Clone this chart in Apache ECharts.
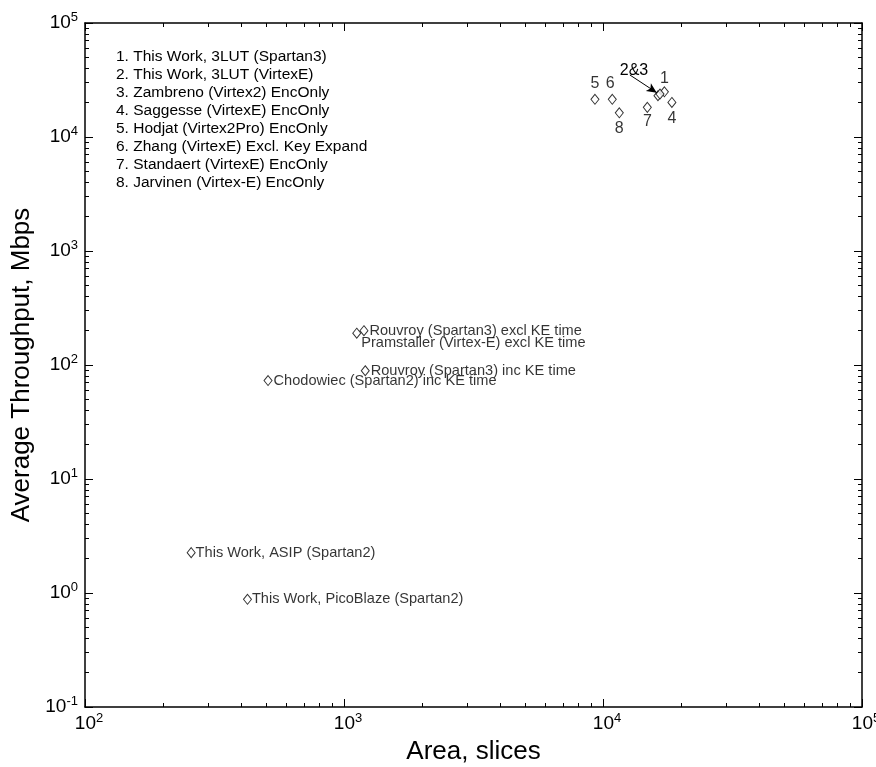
<!DOCTYPE html>
<html>
<head>
<meta charset="utf-8">
<script src="https://cdn.jsdelivr.net/npm/echarts@6/dist/echarts.min.js"></script>
<style>
  html, body { margin: 0; padding: 0; background: #fff; }
  #chart { width: 876px; height: 767px; }
</style>
</head>
<body>
<div id="chart"></div>
<script>
// numbered designs, top-right cluster
const groupNames = [
  '1. This Work, 3LUT (Spartan3)',
  '2. This Work, 3LUT (VirtexE)',
  '3. Zambreno (Virtex2) EncOnly',
  '4. Saggesse (VirtexE) EncOnly',
  '5. Hodjat (Virtex2Pro) EncOnly',
  '6. Zhang (VirtexE) Excl. Key Expand',
  '7. Standaert (VirtexE) EncOnly',
  '8. Jarvinen (Virtex-E) EncOnly'
]
const groupArea = [17260, 16300, 16600, 18450, 9310, 10860, 14830, 11560]
const groupThroughput = [24900, 23000, 23800, 20100, 21400, 21400, 18200, 16300]
const groupTags = ['1', '', '', '4', '5', '6', '7', '8']

// the other designs, labelled in place
const otherNames = [
  'Rouvroy (Spartan3) excl KE time',
  'Pramstaller (Virtex-E) excl KE time',
  'Rouvroy (Spartan3) inc KE time',
  'Chodowiec (Spartan2) inc KE time',
  'This Work, ASIP (Spartan2)',
  'This Work, PicoBlaze (Spartan2)'
]
const otherArea = [1194, 1120, 1208, 509, 257, 424]
const otherThroughput = [200, 190, 89, 73, 2.26, 0.88]

// "2&3" pointer
const arrowTag = '2&3'
const arrowTagAt = [13170, 38100]
const arrowFrom = [12700, 35000]
const arrowTo = [16120, 24500]

// axis ticks
const xMajor = [100, 1000, 10000, 100000]
const yMajor = [0.1, 1, 10, 100, 1000, 10000, 100000]

function minorOf(major) {
  const out = []
  for (let i = 0; i < major.length - 1; i++) {
    for (let k = 2; k <= 9; k++) out.push(major[i] * k)
  }
  return out
}
const xMinor = minorOf(xMajor)
const yMinor = minorOf(yMajor)

const font = 'Liberation Sans'
const black = '#000'

// label placement for the numbered points
const groupLabelPos = {
  0: { position: 'top', distance: 0 },
  3: { position: 'bottom', distance: 3 },
  4: { position: 'top', distance: 2 },
  5: { position: 'top', distance: 2, offset: [-2, 0] },
  6: { position: 'bottom', distance: 1 },
  7: { position: 'bottom', distance: 2 }
}
const otherLabelPos = {
  0: { distance: 1 },
  1: { distance: 0, offset: [0, 9.5] },
  2: { distance: 1 },
  3: { distance: 1 },
  4: { distance: 0 },
  5: { distance: 0 }
}

const groupData = groupArea.map((x, i) => {
  const p = groupLabelPos[i]
  return {
    value: [x, groupThroughput[i]],
    name: groupNames[i],
    label: p
      ? Object.assign({ show: true, formatter: groupTags[i], fontSize: 16, color: black, fontFamily: font }, p)
      : { show: false }
  }
})
const otherData = otherArea.map((x, i) => ({
  value: [x, otherThroughput[i]],
  name: otherNames[i],
  label: Object.assign(
    { show: true, position: 'right', formatter: otherNames[i], fontSize: 14.6, color: black, fontFamily: font },
    otherLabelPos[i]
  )
}))

const expRich = {
  sp: { width: 8 },
  b: { fontSize: 19, lineHeight: 24, color: black, fontFamily: font },
  s: { fontSize: 13, lineHeight: 13, verticalAlign: 'top', color: black, fontFamily: font }
}
const expOf = v => Math.round(Math.log10(v))

function axisBase(min, max) {
  return {
    type: 'log',
    logBase: 10,
    min: min,
    max: max,
    splitLine: { show: false },
    minorTick: { show: false },
    minorSplitLine: { show: false }
  }
}

function makeAxes(dim, min, max, major, minor) {
  const lowSide = dim === 'x' ? 'bottom' : 'left'
  const highSide = dim === 'x' ? 'top' : 'right'
  const line = { show: true, onZero: false, lineStyle: { color: black, width: 1.5 } }
  const main = Object.assign(axisBase(min, max), {
    position: lowSide,
    axisLine: line,
    axisTick: { show: true, inside: true, length: 8, customValues: major, lineStyle: { color: black, width: 1 } },
    axisLabel: {
      show: true,
      customValues: major,
      margin: dim === 'x' ? 5 : 7,
      formatter: dim === 'x'
        ? v => '{sp|}{b|10}{s|' + expOf(v) + '}'
        : v => '{b|10}{s|' + expOf(v) + '}',
      rich: expRich
    },
    nameLocation: 'middle',
    nameTextStyle: { fontSize: 26, color: black, fontFamily: font }
  })
  if (dim === 'x') {
    main.name = 'Area, slices'
    main.nameGap = 26
  } else {
    main.name = 'Average Throughput, Mbps'
    main.nameGap = 47
  }
  const tickOnly = (side, values, len, showLine) => Object.assign(axisBase(min, max), {
    position: side,
    axisLine: showLine ? line : { show: false },
    axisTick: { show: true, inside: true, length: len, customValues: values, lineStyle: { color: black, width: 1 } },
    axisLabel: { show: false }
  })
  return [
    main,
    tickOnly(lowSide, minor, 4, false),
    tickOnly(highSide, major, 8, true),
    tickOnly(highSide, minor, 4, false)
  ]
}

const chart = echarts.init(document.getElementById('chart'))
const option = {
  backgroundColor: '#fff',
  animation: false,
  textStyle: { fontFamily: font, color: black },
  title: {
    text: groupNames.join('\n'),
    left: 116,
    top: 48,
    padding: 0,
    textStyle: { fontSize: 15.5, lineHeight: 18, fontWeight: 'normal', color: black, fontFamily: font }
  },
  grid: {
    left: 85,
    right: 14,
    top: 23,
    bottom: 60,
    containLabel: false,
    outerBoundsMode: 'none'
  },
  xAxis: makeAxes('x', 100, 100000, xMajor, xMinor),
  yAxis: makeAxes('y', 0.1, 100000, yMajor, yMinor),
  series: [
    {
      name: 'numbered',
      type: 'scatter',
      symbol: 'diamond',
      symbolSize: [8, 10],
      itemStyle: { color: '#fff', borderColor: black, borderWidth: 1 },
      label: { color: black, fontFamily: font },
      data: groupData,
      markPoint: {
        symbol: 'circle',
        symbolSize: 1,
        itemStyle: { color: 'rgba(0,0,0,0)' },
        label: { show: true, position: 'inside', formatter: arrowTag, fontSize: 16, color: black, fontFamily: font },
        data: [{ coord: arrowTagAt }]
      },
      markLine: {
        silent: true,
        symbol: ['none', 'arrow'],
        symbolSize: [7, 10],
        label: { show: false },
        lineStyle: { color: black, width: 1, type: 'solid' },
        data: [[{ coord: arrowFrom }, { coord: arrowTo }]]
      }
    },
    {
      name: 'others',
      type: 'scatter',
      symbol: 'diamond',
      symbolSize: [8, 10],
      itemStyle: { color: '#fff', borderColor: black, borderWidth: 1 },
      label: { color: black, fontFamily: font },
      data: otherData
    }
  ]
}
chart.setOption(option)
window.addEventListener('resize', () => {
  chart.resize()
})
</script>
</body>
</html>
